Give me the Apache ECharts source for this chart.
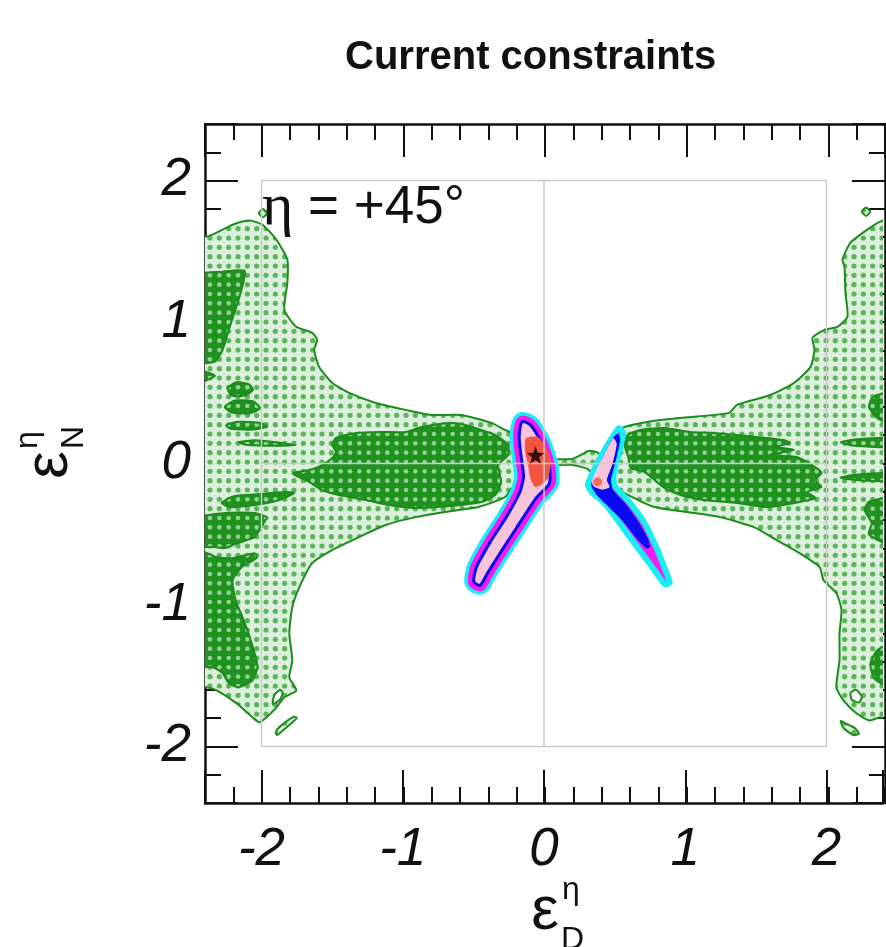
<!DOCTYPE html>
<html>
<head>
<meta charset="utf-8">
<title>Current constraints</title>
<script src="https://cdn.jsdelivr.net/npm/echarts@6/dist/echarts.min.js"></script>
<style>
  html, body { margin: 0; padding: 0; background: #fff; }
  #main { width: 886px; height: 947px; }
</style>
</head>
<body>
<div id="main"></div>
<script>
// axis extent (both axes) and the inner reference square
var axisMin = -2.4, axisMax = 2.4;
var squareLine = [[-2, -2], [-2, 2], [2, 2], [2, -2], [-2, -2]];
var zeroLineV = [[0, -2], [0, 2]];
var zeroLineH = [[-2, 0], [2, 0]];

// light green (dotted) allowed regions, [eps_D, eps_N]
var leftLight = [[-2.45,1.60],[-2.387,1.604],[-2.317,1.632],[-2.204,1.688],[-2.085,1.717],[-1.993,1.688],[-1.894,1.582],[-1.817,1.441],[-1.817,1.278],[-1.838,1.087],[-1.754,0.966],[-1.641,0.924],[-1.606,0.874],[-1.627,0.804],[-1.592,0.683],[-1.5,0.57],[-1.38,0.499],[-1.19,0.428],[-0.979,0.379],[-0.796,0.343],[-0.585,0.343],[-0.373,0.287],[-0.275,0.237],[-0.2,0.2],[-0.12,0.1],[0.02,0.04],[0.02,-0.02],[-0.12,-0.1],[-0.183,-0.117],[-0.275,-0.237],[-0.465,-0.308],[-0.606,-0.329],[-0.908,-0.379],[-1.12,-0.435],[-1.31,-0.52],[-1.5,-0.612],[-1.641,-0.704],[-1.732,-0.874],[-1.782,-1.016],[-1.803,-1.2],[-1.782,-1.391],[-1.803,-1.512],[-1.754,-1.604],[-1.838,-1.653],[-1.894,-1.724],[-1.965,-1.795],[-2.014,-1.83],[-2.063,-1.795],[-2.176,-1.696],[-2.317,-1.604],[-2.387,-1.582],[-2.45,-1.58]];
var rightLight = [[0.52,0.22],[0.57,0.258],[0.732,0.294],[0.965,0.322],[1.31,0.358],[1.366,0.414],[1.6,0.484],[1.77,0.57],[1.887,0.683],[1.915,0.804],[1.901,0.888],[1.986,0.945],[2.077,0.966],[2.148,1.037],[2.134,1.207],[2.127,1.391],[2.113,1.441],[2.17,1.561],[2.289,1.653],[2.38,1.71],[2.45,1.72],[2.45,-1.795],[2.373,-1.795],[2.303,-1.816],[2.211,-1.766],[2.12,-1.675],[2.07,-1.582],[2.092,-1.391],[2.092,-1.2],[2.106,-1.037],[2.07,-0.917],[1.979,-0.825],[1.951,-0.733],[1.81,-0.634],[1.648,-0.542],[1.486,-0.45],[1.246,-0.379],[1.014,-0.343],[0.782,-0.308],[0.57,-0.209],[0.48,-0.15],[0.45,0.0]];
var stripLight = [[0.0,0.035],[0.1,0.03],[0.2,0.032],[0.26,0.06],[0.32,0.09],[0.39,0.07],[0.42,-0.04],[0.37,-0.1],[0.31,-0.04],[0.2,-0.01],[0.1,-0.012],[0.0,-0.01]];
var loopLeft = [[-1.90,-1.90],[-1.87,-1.86],[-1.77,-1.79],[-1.75,-1.80],[-1.84,-1.88],[-1.89,-1.92]];
var loopRight = [[2.10,-1.82],[2.14,-1.84],[2.20,-1.87],[2.23,-1.91],[2.19,-1.92],[2.12,-1.87]];
var dotLeft = [[-2.02,1.77],[-1.99,1.80],[-1.96,1.77],[-1.99,1.74]];
var dotRight = [[2.25,1.78],[2.28,1.81],[2.31,1.78],[2.28,1.75]];
var lightRegions = [leftLight, rightLight, stripLight, loopLeft, loopRight, dotLeft, dotRight];

// dark green (dotted) regions
var darkEdgeTop = [[-2.45,1.33],[-2.275,1.356],[-2.12,1.363],[-2.134,1.257],[-2.176,1.115],[-2.225,0.966],[-2.275,0.804],[-2.33,0.72],[-2.45,0.72]];
var darkEdgeBump = [[-2.45,0.66],[-2.33,0.62],[-2.45,0.57]];
var darkBlob1 = [[-2.24,0.53],[-2.18,0.575],[-2.09,0.56],[-2.06,0.52],[-2.12,0.48],[-2.21,0.48]];
var darkBlob2 = [[-2.26,0.40],[-2.19,0.445],[-2.06,0.44],[-2.01,0.39],[-2.08,0.355],[-2.21,0.36]];
var darkBlob3 = [[-2.25,0.27],[-2.17,0.295],[-2.0,0.285],[-1.96,0.26],[-2.05,0.24],[-2.22,0.245]];
var darkBlob4 = [[-2.16,0.15],[-2.05,0.165],[-1.9,0.15],[-1.76,0.13],[-1.9,0.125],[-2.1,0.13]];
var darkBandLeft = [[-1.472,0.181],[-1.331,0.216],[-1.148,0.223],[-0.979,0.223],[-0.866,0.258],[-0.676,0.287],[-0.556,0.272],[-0.444,0.237],[-0.345,0.202],[-0.254,0.131],[-0.254,0.06],[-0.324,-0.011],[-0.303,-0.131],[-0.345,-0.223],[-0.444,-0.273],[-0.585,-0.294],[-0.746,-0.308],[-0.908,-0.315],[-1.099,-0.294],[-1.261,-0.258],[-1.451,-0.223],[-1.57,-0.188],[-1.662,-0.131],[-1.78,-0.07],[-1.662,-0.046],[-1.57,-0.011],[-1.5,0.039],[-1.472,0.081],[-1.5,0.131]];
var darkStripLeft = [[-2.282,-0.279],[-2.19,-0.23],[-2.014,-0.216],[-1.838,-0.202],[-1.768,-0.209],[-1.873,-0.258],[-2.049,-0.294],[-2.225,-0.308]];
var darkEdgeMid = [[-2.45,-0.386],[-2.26,-0.35],[-2.049,-0.35],[-1.965,-0.379],[-1.979,-0.414],[-2.049,-0.52],[-2.169,-0.563],[-2.26,-0.598],[-2.33,-0.591],[-2.45,-0.58]];
var darkEdgeLow = [[-2.45,-0.62],[-2.317,-0.662],[-2.204,-0.669],[-2.049,-0.634],[-2.035,-0.669],[-2.141,-0.733],[-2.204,-0.825],[-2.183,-0.966],[-2.134,-1.087],[-2.092,-1.2],[-2.049,-1.341],[-2.028,-1.44],[-2.063,-1.532],[-2.162,-1.582],[-2.232,-1.554],[-2.275,-1.483],[-2.345,-1.44],[-2.45,-1.43]];
var darkBandRight = [[0.57,0.131],[0.592,0.202],[0.683,0.237],[0.852,0.251],[1.035,0.223],[1.204,0.216],[1.366,0.202],[1.507,0.188],[1.697,0.166],[1.739,0.145],[1.648,0.117],[1.768,0.096],[1.599,0.06],[1.79,0.046],[1.92,-0.025],[1.965,-0.067],[1.92,-0.117],[1.965,-0.166],[1.866,-0.202],[1.92,-0.244],[1.775,-0.279],[1.585,-0.308],[1.366,-0.279],[1.132,-0.258],[0.965,-0.223],[0.852,-0.173],[0.782,-0.117],[0.711,-0.06],[0.613,-0.032],[0.60,0.03]];
var darkEdgeR1 = [[2.45,0.5],[2.33,0.47],[2.3,0.4],[2.36,0.32],[2.45,0.29]];
var darkEdgeR2 = [[2.45,0.18],[2.2,0.17],[2.1,0.15],[2.2,0.125],[2.45,0.12]];
var darkEdgeR3 = [[2.45,-0.07],[2.2,-0.08],[2.1,-0.1],[2.25,-0.12],[2.45,-0.12]];
var darkEdgeR4 = [[2.45,-0.25],[2.3,-0.27],[2.27,-0.33],[2.32,-0.42],[2.3,-0.5],[2.45,-0.57]];
var darkEdgeR5 = [[2.45,-1.28],[2.36,-1.32],[2.31,-1.42],[2.34,-1.52],[2.45,-1.58]];
var darkRegions = [darkEdgeTop, darkEdgeBump, darkBlob1, darkBlob2, darkBlob3, darkBlob4, darkBandLeft, darkStripLeft, darkEdgeMid, darkEdgeLow, darkBandRight, darkEdgeR1, darkEdgeR2, darkEdgeR3, darkEdgeR4, darkEdgeR5];

// small excluded holes inside the light regions
var holeLeft = [[-1.92,-1.70],[-1.87,-1.67],[-1.85,-1.62],[-1.87,-1.60],[-1.91,-1.64]];
var holeRight = [[2.17,-1.62],[2.21,-1.60],[2.25,-1.65],[2.23,-1.69],[2.18,-1.67]];
var holes = [holeLeft, holeRight];

// central confidence regions
var pinkLeft = [[-0.15,0.285],[-0.1,0.262],[-0.028,0.145],[0.028,-0.025],[0.028,-0.138],[-0.063,-0.237],[-0.204,-0.45],[-0.324,-0.634],[-0.415,-0.78],[-0.455,-0.85],[-0.487,-0.83],[-0.47,-0.74],[-0.373,-0.563],[-0.254,-0.379],[-0.162,-0.209],[-0.134,-0.096],[-0.148,0.025],[-0.165,0.18]];
var redLeft = [[-0.127,0.180],[-0.042,0.188],[0.014,0.117],[0.049,0.011],[0.028,-0.103],[-0.021,-0.152],[-0.063,-0.166],[-0.092,-0.117],[-0.113,-0.011],[-0.134,0.096]];
var magentaRight = [[0.53,0.25],[0.56,0.215],[0.53,0.074],[0.49,-0.096],[0.505,-0.166],[0.592,-0.258],[0.711,-0.421],[0.803,-0.612],[0.859,-0.754],[0.89,-0.84],[0.859,-0.856],[0.817,-0.804],[0.746,-0.705],[0.64,-0.563],[0.521,-0.4],[0.43,-0.28],[0.345,-0.209],[0.31,-0.152],[0.345,-0.067],[0.401,0.046],[0.48,0.18]];
var blueRight = [[0.52,0.21],[0.54,0.175],[0.51,0.025],[0.475,-0.117],[0.49,-0.188],[0.59,-0.3],[0.675,-0.42],[0.735,-0.53],[0.752,-0.59],[0.725,-0.6],[0.655,-0.53],[0.556,-0.405],[0.451,-0.3],[0.37,-0.22],[0.335,-0.152],[0.37,-0.06],[0.425,0.06],[0.48,0.17]];
var pinkRight = [[0.49,0.18],[0.515,0.14],[0.482,-0.011],[0.445,-0.117],[0.465,-0.166],[0.415,-0.185],[0.355,-0.165],[0.338,-0.131],[0.37,-0.046],[0.425,0.06]];
var bestFit = [[-0.06, 0.06]];
var redDotRight = [[0.38, -0.13]];

var C_LINE = '#1c8c1c';
var C_CYAN = '#18ecf4', C_MAG = '#f21cf0', C_BLUE = '#0a0af0', C_PINK = '#f7c4da', C_RED = '#f4553f';

function dotPattern(bg, dot, r) {
  var c = document.createElement('canvas');
  c.width = 28; c.height = 28;
  var g = c.getContext('2d');
  g.fillStyle = bg;
  g.fillRect(0, 0, 28, 28);
  g.fillStyle = dot;
  for (var i = 0; i < 3; i++) {
    for (var j = 0; j < 3; j++) {
      g.beginPath();
      g.arc(4.67 + i * 9.33, 4.67 + j * 9.33, r, 0, Math.PI * 2);
      g.fill();
    }
  }
  return { image: c, repeat: 'repeat' };
}
var lightFill = dotPattern('#dcefdc', '#5ab45a', 2.6);
var darkFill = dotPattern('#1f921f', '#92d192', 2.3);

function regionSeries(list, fill, lw, z) {
  return {
    type: 'custom',
    coordinateSystem: 'cartesian2d',
    clip: true,
    silent: true,
    z: z,
    data: list.map(function (pts) { return pts[1]; }),
    renderItem: function (params, api) {
      var pts = list[params.dataIndex].map(function (p) { return api.coord(p); });
      return {
        type: 'polygon',
        shape: { points: pts, smooth: 0.2 },
        style: { fill: fill, stroke: C_LINE, lineWidth: lw }
      };
    }
  };
}

function poly(api, list, style) {
  return {
    type: 'polygon',
    shape: { points: list.map(function (p) { return api.coord(p); }), smooth: 0.2 },
    style: style
  };
}

var chart = echarts.init(document.getElementById('main'));

var gridRect = { left: 205, top: 124, width: 680, height: 679 };
var fontNum = { fontFamily: 'Liberation Sans, Arial, sans-serif', fontStyle: 'italic', fontSize: 53, color: '#111' };

function intLabel(v) {
  return Math.abs(v - Math.round(v)) < 1e-6 ? String(Math.round(v)) : '';
}
function majorAxis(grid, pos, labels) {
  return {
    type: 'value', gridIndex: grid, position: pos, min: axisMin, max: axisMax, splitNumber: 5,
    axisLine: { show: true, onZero: false, lineStyle: { color: '#111', width: 2.5 } },
    axisTick: { show: true, inside: true, length: 33, lineStyle: { color: '#111', width: 2 } },
    axisLabel: labels ? Object.assign({ show: true, margin: pos === 'left' ? 14 : 21, formatter: intLabel }, fontNum) : { show: false },
    splitLine: { show: false }
  };
}
function minorAxis(grid, pos) {
  return {
    type: 'value', gridIndex: grid, position: pos, min: axisMin, max: axisMax, interval: 0.2,
    axisLine: { show: false, onZero: false },
    axisTick: { show: true, inside: true, length: 16, lineStyle: { color: '#111', width: 2 } },
    axisLabel: { show: false },
    splitLine: { show: false }
  };
}

var option = {
  animation: false,
  backgroundColor: '#fff',
  title: {
    text: 'Current constraints',
    left: 340, top: 33,
    textStyle: { fontFamily: 'Liberation Sans, Arial, sans-serif', fontWeight: 'bold', fontSize: 40, color: '#111' }
  },
  grid: [0, 1, 2, 3].map(function () { return Object.assign({}, gridRect); }),
  xAxis: [majorAxis(0, 'bottom', true), majorAxis(1, 'top', false), minorAxis(2, 'bottom'), minorAxis(3, 'top')],
  yAxis: [majorAxis(0, 'left', true), majorAxis(1, 'right', false), minorAxis(2, 'left'), minorAxis(3, 'right')],
  graphic: [
    {
      type: 'text', left: 262, top: 178, z: 100,
      style: {
        text: '{g|η}{s| = +45°}',
        rich: {
          g: { fontFamily: 'Liberation Serif, DejaVu Serif, serif', fontSize: 60, fill: '#111' },
          s: { fontFamily: 'Liberation Sans, Arial, sans-serif', fontSize: 53, fill: '#111' }
        }
      }
    },
    { type: 'text', x: 545, y: 912, z: 100, style: { text: 'ε', fontFamily: 'Liberation Sans, sans-serif', fontSize: 62, fill: '#111', align: 'center', verticalAlign: 'middle' } },
    { type: 'text', x: 562, y: 890, z: 100, style: { text: 'η', fontFamily: 'Liberation Sans, sans-serif', fontSize: 32, fill: '#111', align: 'left', verticalAlign: 'middle' } },
    { type: 'text', x: 561, y: 940, z: 100, style: { text: 'D', fontFamily: 'Liberation Sans, sans-serif', fontSize: 32, fill: '#111', align: 'left', verticalAlign: 'middle' } },
    {
      type: 'group', x: 50, y: 465, rotation: Math.PI / 2, z: 100,
      children: [
        { type: 'text', x: 0, y: 0, style: { text: 'ε', fontFamily: 'Liberation Sans, sans-serif', fontSize: 62, fill: '#111', align: 'center', verticalAlign: 'middle' } },
        { type: 'text', x: 16, y: -22, style: { text: 'η', fontFamily: 'Liberation Sans, sans-serif', fontSize: 32, fill: '#111', align: 'left', verticalAlign: 'middle' } },
        { type: 'text', x: 16, y: 24, style: { text: 'N', fontFamily: 'Liberation Sans, sans-serif', fontSize: 32, fill: '#111', align: 'left', verticalAlign: 'middle' } }
      ]
    }
  ],
  series: [
    regionSeries(lightRegions, lightFill, 2, 1),
    regionSeries(darkRegions, darkFill, 2, 2),
    regionSeries(holes, '#fff', 2, 3),
    {
      type: 'custom', coordinateSystem: 'cartesian2d', clip: true, silent: true, z: 4,
      data: [pinkLeft[0]],
      renderItem: function (params, api) {
        return {
          type: 'group',
          children: [
            poly(api, pinkLeft, { fill: C_CYAN, stroke: C_CYAN, lineWidth: 22, lineJoin: 'round' }),
            poly(api, pinkLeft, { fill: C_MAG, stroke: C_MAG, lineWidth: 15, lineJoin: 'round' }),
            poly(api, pinkLeft, { fill: C_BLUE, stroke: C_BLUE, lineWidth: 6, lineJoin: 'round' }),
            poly(api, pinkLeft, { fill: C_PINK }),
            poly(api, redLeft, { fill: C_RED })
          ]
        };
      }
    },
    {
      type: 'custom', coordinateSystem: 'cartesian2d', clip: true, silent: true, z: 4,
      data: [magentaRight[0]],
      renderItem: function (params, api) {
        return {
          type: 'group',
          children: [
            poly(api, magentaRight, { fill: C_MAG, stroke: C_CYAN, lineWidth: 6, lineJoin: 'round' }),
            poly(api, blueRight, { fill: C_BLUE }),
            poly(api, pinkRight, { fill: C_PINK })
          ]
        };
      }
    },
    { type: 'line', data: squareLine, symbol: 'none', silent: true, z: 6, lineStyle: { color: '#cbcbcb', width: 1.5 } },
    { type: 'line', data: zeroLineV, symbol: 'none', silent: true, z: 6, lineStyle: { color: '#cbcbcb', width: 1.5 } },
    { type: 'line', data: zeroLineH, symbol: 'none', silent: true, z: 6, lineStyle: { color: '#cbcbcb', width: 1.5 } },
    { type: 'scatter', data: redDotRight, symbol: 'circle', symbolSize: 9, silent: true, z: 7, itemStyle: { color: C_RED } },
    {
      type: 'scatter', data: bestFit, silent: true, z: 8, symbolSize: 18,
      symbol: 'path://M0,-10 L2.35,-3.24 L9.51,-3.09 L3.8,1.24 L5.88,8.09 L0,4 L-5.88,8.09 L-3.8,1.24 L-9.51,-3.09 L-2.35,-3.24 Z',
      itemStyle: { color: '#000' }
    }
  ]
};

chart.setOption(option);
</script>
</body>
</html>
